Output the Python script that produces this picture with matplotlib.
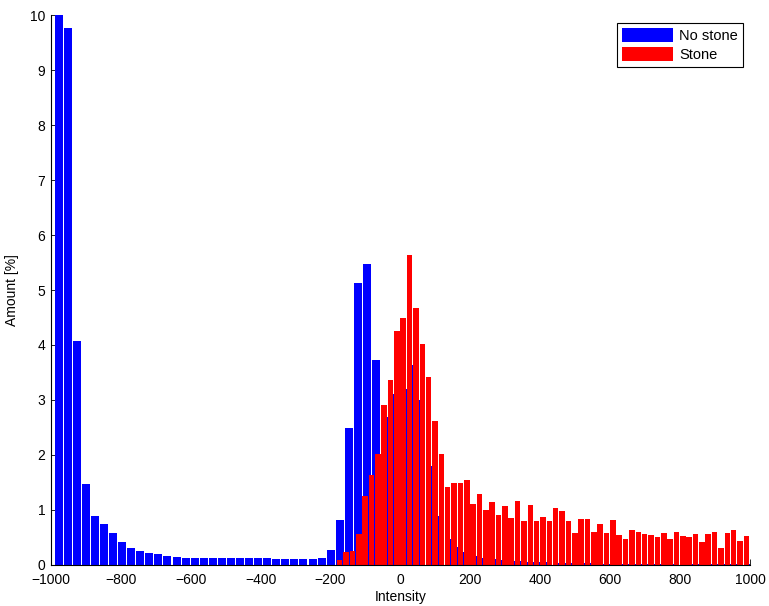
import numpy as np
import matplotlib
matplotlib.use("Agg")
import matplotlib.pyplot as plt

plt.rcParams['font.family'] = ['Liberation Sans', 'DejaVu Sans']

# --- Histogram data (amount in %) ---
# "No stone": bin centres start at -978, bin width ~25.9
blue_start, blue_step = -978.0, 25.94
blue_vals = [10.0, 9.77, 4.08, 1.47, 0.89, 0.745, 0.58, 0.42, 0.31, 0.255,
             0.22, 0.20, 0.165, 0.145, 0.127, 0.127, 0.127, 0.127, 0.127, 0.127,
             0.127, 0.127, 0.127, 0.127, 0.11, 0.11, 0.11, 0.11, 0.11, 0.127,
             0.27, 0.82, 2.49, 5.13, 5.48, 3.73, 2.69, 3.1, 3.2, 3.64,
             3.0, 1.8, 0.89, 0.47, 0.33, 0.236, 0.16, 0.127, 0.11, 0.09,
             0.07, 0.07, 0.055, 0.055, 0.055, 0.036, 0.036, 0.036, 0.03, 0.03,
             0.025, 0.02, 0.02, 0.02, 0.02, 0.02, 0.015, 0.015, 0.015, 0.01,
             0.01, 0.01, 0.01, 0.01, 0.01, 0.01, 0.01]

# "Stone": bin centres start at -174, bin width ~18.2
red_start, red_step = -174.0, 18.18
red_vals = [0.09, 0.24, 0.25, 0.56, 1.25, 1.64, 2.02, 2.91, 3.36, 4.25,
            4.49, 5.64, 4.67, 4.02, 3.42, 2.62, 2.02, 1.42, 1.49, 1.49,
            1.55, 1.11, 1.29, 1.0, 1.15, 0.91, 1.07, 0.85, 1.16, 0.80,
            1.09, 0.80, 0.87, 0.80, 1.04, 0.98, 0.80, 0.58, 0.84, 0.84,
            0.60, 0.75, 0.58, 0.82, 0.55, 0.47, 0.64, 0.60, 0.56, 0.55,
            0.51, 0.58, 0.47, 0.60, 0.53, 0.51, 0.56, 0.42, 0.56, 0.60,
            0.31, 0.58, 0.64, 0.44, 0.53, 0.44]

blue_x = blue_start + blue_step * np.arange(len(blue_vals))
red_x = red_start + red_step * np.arange(len(red_vals))

fig = plt.figure(figsize=(7.69, 6.06), dpi=100)
ax = fig.add_axes([0.0663, 0.0677, 0.909, 0.9075])

ax.bar(blue_x, blue_vals, width=blue_step * 0.88, color='#0000ff',
       edgecolor='none', label='No stone')
ax.bar(red_x, red_vals, width=red_step * 0.87, color='#ff0000',
       edgecolor='none', label='Stone')

ax.set_xlim(-1000, 1000)
ax.set_ylim(0, 10)
ax.set_xticks(np.arange(-1000, 1001, 200))
ax.set_yticks(np.arange(0, 11, 1))
ax.set_xlabel('Intensity', fontsize=10, labelpad=2)
ax.set_ylabel('Amount [%]', fontsize=10, labelpad=8)
ax.tick_params(direction='in', length=4, labelsize=10, width=0.6)
ax.tick_params(axis='x', pad=6)
ax.tick_params(axis='y', pad=4)
ax.set_axisbelow(True)

for side in ['top', 'right']:
    ax.spines[side].set_visible(False)
for side in ['left', 'bottom']:
    ax.spines[side].set_linewidth(0.8)

leg = ax.legend(loc='upper right', bbox_to_anchor=(0.99, 0.986),
                borderaxespad=0, fontsize=10.5, fancybox=False, framealpha=1,
                edgecolor='black', handlelength=3.5, handleheight=1.1,
                labelspacing=0.28, handletextpad=0.4, borderpad=0.35)
leg.get_frame().set_linewidth(0.8)

fig.savefig('out.png', dpi=100)
